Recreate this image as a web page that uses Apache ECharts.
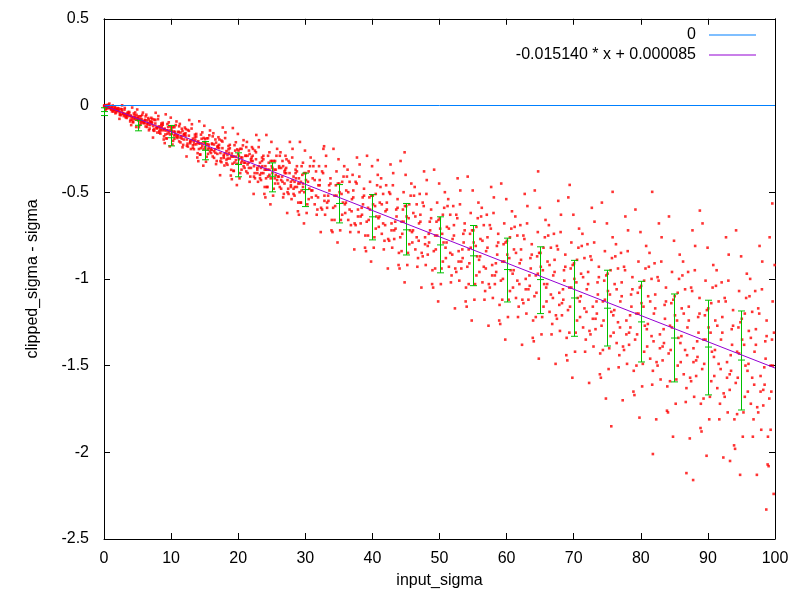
<!DOCTYPE html>
<html>
<head>
<meta charset="utf-8">
<script src="https://cdn.jsdelivr.net/npm/echarts@6.0.0/dist/echarts.min.js"></script>
<style>
  html, body { margin: 0; padding: 0; background: #fff; }
  #chart { width: 800px; height: 600px; }
</style>
</head>
<body>
<div id="chart"></div>
<script>
// clipped_sigma - sigma against input_sigma, points in passes
const dotsA = [
  [0.1,-0.004],[0.3,-0.020],[0.5,0.002],[0.6,-0.010],[0.8,0.011],[0.95,-0.016],
  [1.9,-0.030],[1.2,-0.005],[1.7,-0.045],[1.4,-0.017],[1.05,-0.024],[1.6,-0.010],
  [2.5,-0.020],[2.85,-0.043],[2.15,-0.027],[2.35,-0.054],[2.7,0.001],[2.95,-0.061],
  [3.25,-0.069],[3.75,-0.043],[3.45,-0.061],[3.05,-0.024],[3.9,-0.092],[3.6,-0.051],
  [4.65,-0.068],[4.15,-0.082],[4.95,-0.023],[4.35,-0.096],[4.55,-0.056],[4.8,-0.124],
  [5.1,-0.075],[5.3,-0.112],[5.5,-0.062],[5.6,-0.088],[5.8,-0.041],[5.95,-0.102],
  [6.9,-0.113],[6.2,-0.063],[6.7,-0.143],[6.4,-0.086],[6.05,-0.101],[6.6,-0.072],
  [7.5,-0.081],[7.85,-0.123],[7.15,-0.094],[7.35,-0.143],[7.7,-0.042],[7.95,-0.156],
  [8.25,-0.157],[8.75,-0.111],[8.45,-0.143],[8.05,-0.079],[8.9,-0.196],[8.6,-0.125],
  [9.65,-0.144],[9.15,-0.167],[9.95,-0.070],[9.35,-0.190],[9.55,-0.124],[9.8,-0.236],
  [10.1,-0.146],[10.3,-0.204],[10.5,-0.125],[10.6,-0.167],[10.8,-0.092],[10.95,-0.188],
  [11.9,-0.196],[11.2,-0.120],[11.7,-0.241],[11.4,-0.156],[11.05,-0.178],[11.6,-0.134],
  [12.5,-0.141],[12.85,-0.203],[12.15,-0.160],[12.35,-0.232],[12.7,-0.084],[12.95,-0.251],
  [13.25,-0.244],[13.75,-0.179],[13.45,-0.224],[13.05,-0.133],[13.9,-0.300],[13.6,-0.199],
  [14.65,-0.219],[14.15,-0.251],[14.95,-0.117],[14.35,-0.283],[14.55,-0.192],[14.8,-0.347],
  [15.1,-0.217],[15.3,-0.296],[15.5,-0.189],[15.6,-0.245],[15.8,-0.144],[15.95,-0.274],
  [16.9,-0.279],[16.2,-0.178],[16.7,-0.338],[16.4,-0.225],[16.05,-0.255],[16.6,-0.196],
  [17.5,-0.202],[17.85,-0.283],[17.15,-0.227],[17.35,-0.321],[17.7,-0.127],[17.95,-0.346],
  [18.25,-0.332],[18.75,-0.247],[18.45,-0.306],[18.05,-0.188],[18.9,-0.404],[18.6,-0.273],
  [19.65,-0.295],[19.15,-0.336],[19.95,-0.164],[19.35,-0.377],[19.55,-0.260],[19.8,-0.459],
  [20.1,-0.29],[20.3,-0.39],[20.5,-0.25],[20.6,-0.32],[20.8,-0.20],[20.95,-0.36],
  [21.9,-0.36],[21.2,-0.24],[21.7,-0.44],[21.4,-0.29],[21.05,-0.33],[21.6,-0.26],
  [22.5,-0.26],[22.85,-0.36],[22.15,-0.29],[22.35,-0.41],[22.7,-0.17],[22.95,-0.44],
  [23.25,-0.42],[23.75,-0.31],[23.45,-0.39],[23.05,-0.24],[23.9,-0.51],[23.6,-0.35],
  [24.65,-0.37],[24.15,-0.42],[24.95,-0.21],[24.35,-0.47],[24.55,-0.33],[24.8,-0.57],
  [25.1,-0.36],[25.3,-0.48],[25.5,-0.32],[25.6,-0.40],[25.8,-0.25],[25.95,-0.45],
  [26.9,-0.45],[26.2,-0.29],[26.7,-0.53],[26.4,-0.36],[26.05,-0.41],[26.6,-0.32],
  [27.5,-0.32],[27.85,-0.44],[27.15,-0.36],[27.35,-0.50],[27.7,-0.21],[27.95,-0.54],
  [28.25,-0.51],[28.75,-0.38],[28.45,-0.47],[28.05,-0.30],[28.9,-0.61],[28.6,-0.42],
  [29.65,-0.45],[29.15,-0.50],[29.95,-0.26],[29.35,-0.56],[29.55,-0.40],[29.8,-0.68],
  [30.1,-0.43],[30.3,-0.57],[30.5,-0.38],[30.6,-0.48],[30.8,-0.30],[30.95,-0.53],
  [31.9,-0.53],[31.2,-0.35],[31.7,-0.63],[31.4,-0.43],[31.05,-0.49],[31.6,-0.38],
  [32.5,-0.38],[32.85,-0.52],[32.15,-0.43],[32.35,-0.59],[32.7,-0.25],[32.95,-0.63],
  [33.25,-0.59],[33.75,-0.45],[33.45,-0.55],[33.05,-0.35],[33.9,-0.72],[33.6,-0.49],
  [34.65,-0.52],[34.15,-0.59],[34.95,-0.31],[34.35,-0.66],[34.55,-0.46],[34.8,-0.79],
  [35.1,-0.50],[35.3,-0.66],[35.5,-0.44],[35.6,-0.56],[35.8,-0.35],[35.95,-0.62],
  [36.9,-0.61],[36.2,-0.41],[36.7,-0.73],[36.4,-0.50],[36.05,-0.56],[36.6,-0.44],
  [37.5,-0.44],[37.85,-0.60],[37.15,-0.49],[37.35,-0.68],[37.7,-0.30],[37.95,-0.73],
  [38.25,-0.68],[38.75,-0.52],[38.45,-0.63],[38.05,-0.41],[38.9,-0.82],[38.6,-0.57],
  [39.65,-0.60],[39.15,-0.67],[39.95,-0.35],[39.35,-0.75],[39.55,-0.53],[39.8,-0.90],
  [40.1,-0.57],[40.3,-0.76],[40.5,-0.51],[40.6,-0.64],[40.8,-0.40],[40.95,-0.70],
  [41.9,-0.69],[41.2,-0.47],[41.7,-0.83],[41.4,-0.57],[41.05,-0.64],[41.6,-0.51],
  [42.5,-0.50],[42.85,-0.68],[42.15,-0.56],[42.35,-0.77],[42.7,-0.34],[42.95,-0.82],
  [43.25,-0.77],[43.75,-0.59],[43.45,-0.71],[43.05,-0.46],[43.9,-0.92],[43.6,-0.64],
  [44.65,-0.67],[44.15,-0.76],[44.95,-0.40],[44.35,-0.84],[44.55,-0.60],[44.8,-1.02],
  [45.1,-0.64],[45.3,-0.85],[45.5,-0.57],[45.6,-0.72],[45.8,-0.45],[45.95,-0.79],
  [46.9,-0.78],[46.2,-0.52],[46.7,-0.93],[46.4,-0.64],[46.05,-0.72],[46.6,-0.57],
  [47.5,-0.56],[47.85,-0.76],[47.15,-0.63],[47.35,-0.85],[47.7,-0.38],[47.95,-0.92],
  [48.25,-0.86],[48.75,-0.65],[48.45,-0.79],[48.05,-0.51],[48.9,-1.03],[48.6,-0.72],
  [49.65,-0.75],[49.15,-0.84],[49.95,-0.45],[49.35,-0.94],[49.55,-0.67],[49.8,-1.13],
  [50.1,-0.71],[50.3,-0.94],[50.5,-0.63],[50.6,-0.79],[50.8,-0.50],[50.95,-0.88],
  [51.9,-0.86],[51.2,-0.58],[51.7,-1.02],[51.4,-0.71],[51.05,-0.79],[51.6,-0.63],
  [52.5,-0.63],[52.85,-0.84],[52.15,-0.69],[52.35,-0.94],[52.7,-0.42],[52.95,-1.01],
  [53.25,-0.94],[53.75,-0.72],[53.45,-0.88],[53.05,-0.57],[53.9,-1.13],[53.6,-0.79],
  [54.65,-0.82],[54.15,-0.93],[54.95,-0.49],[54.35,-1.03],[54.55,-0.74],[54.8,-1.24],
  [55.1,-0.79],[55.3,-1.03],[55.5,-0.70],[55.6,-0.87],[55.8,-0.56],[55.95,-0.96],
  [56.9,-0.94],[56.2,-0.64],[56.7,-1.12],[56.4,-0.78],[56.05,-0.87],[56.6,-0.69],
  [57.5,-0.69],[57.85,-0.92],[57.15,-0.76],[57.35,-1.03],[57.7,-0.47],[57.95,-1.11],
  [58.25,-1.03],[58.75,-0.79],[58.45,-0.96],[58.05,-0.62],[58.9,-1.24],[58.6,-0.86],
  [59.65,-0.90],[59.15,-1.01],[59.95,-0.54],[59.35,-1.12],[59.55,-0.80],[59.8,-1.35],
  [60.1,-0.86],[60.3,-1.12],[60.5,-0.76],[60.6,-0.95],[60.8,-0.61],[60.95,-1.05],
  [61.9,-1.03],[61.2,-0.70],[61.7,-1.22],[61.4,-0.85],[61.05,-0.95],[61.6,-0.75],
  [62.5,-0.75],[62.85,-1.00],[62.15,-0.83],[62.35,-1.12],[62.7,-0.51],[62.95,-1.20],
  [63.25,-1.12],[63.75,-0.86],[63.45,-1.04],[63.05,-0.68],[63.9,-1.34],[63.6,-0.94],
  [64.65,-0.97],[64.15,-1.10],[64.95,-0.59],[64.35,-1.22],[64.55,-0.87],[64.8,-1.46],
  [65.1,-0.93],[65.3,-1.22],[65.5,-0.82],[65.6,-1.03],[65.8,-0.66],[65.95,-1.13],
  [66.9,-1.11],[66.2,-0.75],[66.7,-1.32],[66.4,-0.92],[66.05,-1.03],[66.6,-0.82],
  [67.5,-0.81],[67.85,-1.08],[67.15,-0.89],[67.35,-1.21],[67.7,-0.55],[67.95,-1.30],
  [68.25,-1.21],[68.75,-0.93],[68.45,-1.12],[68.05,-0.73],[68.9,-1.44],[68.6,-1.01],
  [69.65,-1.05],[69.15,-1.18],[69.95,-0.63],[69.35,-1.31],[69.55,-0.94],[69.8,-1.57],
  [70.1,-1.00],[70.3,-1.31],[70.5,-0.89],[70.6,-1.11],[70.8,-0.71],[70.95,-1.22],
  [71.9,-1.19],[71.2,-0.81],[71.7,-1.42],[71.4,-0.99],[71.05,-1.10],[71.6,-0.88],
  [72.5,-0.87],[72.85,-1.16],[72.15,-0.96],[72.35,-1.30],[72.7,-0.59],[72.95,-1.39],
  [73.25,-1.29],[73.75,-0.99],[73.45,-1.20],[73.05,-0.79],[73.9,-1.55],[73.6,-1.09],
  [74.65,-1.12],[74.15,-1.27],[74.95,-0.68],[74.35,-1.41],[74.55,-1.01],[74.8,-1.69],
  [75.1,-1.07],[75.3,-1.40],[75.5,-0.95],[75.6,-1.19],[75.8,-0.76],[75.95,-1.31],
  [76.9,-1.28],[76.2,-0.87],[76.7,-1.51],[76.4,-1.06],[76.05,-1.18],[76.6,-0.94],
  [77.5,-0.93],[77.85,-1.24],[77.15,-1.02],[77.35,-1.39],[77.7,-0.64],[77.95,-1.49],
  [78.25,-1.38],[78.75,-1.06],[78.45,-1.28],[78.05,-0.84],[78.9,-1.65],[78.6,-1.16],
  [79.65,-1.20],[79.15,-1.35],[79.95,-0.73],[79.35,-1.50],[79.55,-1.08],[79.8,-1.80],
  [80.1,-1.14],[80.3,-1.49],[80.5,-1.01],[80.6,-1.27],[80.8,-0.81],[80.95,-1.39],
  [81.9,-1.36],[81.2,-0.93],[81.7,-1.61],[81.4,-1.13],[81.05,-1.26],[81.6,-1.00],
  [82.5,-0.99],[82.85,-1.32],[82.15,-1.09],[82.35,-1.48],[82.7,-0.68],[82.95,-1.58],
  [83.25,-1.47],[83.75,-1.13],[83.45,-1.37],[83.05,-0.90],[83.9,-1.76],[83.6,-1.23],
  [84.65,-1.28],[84.15,-1.43],[84.95,-0.78],[84.35,-1.59],[84.55,-1.14],[84.8,-1.91],
  [85.1,-1.21],[85.3,-1.58],[85.5,-1.08],[85.6,-1.34],[85.8,-0.86],[85.95,-1.48],
  [86.9,-1.44],[86.2,-0.98],[86.7,-1.71],[86.4,-1.20],[86.05,-1.33],[86.6,-1.06],
  [87.5,-1.05],[87.85,-1.40],[87.15,-1.16],[87.35,-1.57],[87.7,-0.72],[87.95,-1.68],
  [88.25,-1.56],[88.75,-1.20],[88.45,-1.45],[88.05,-0.95],[88.9,-1.86],[88.6,-1.31],
  [89.65,-1.35],[89.15,-1.52],[89.95,-0.82],[89.35,-1.69],[89.55,-1.21],[89.8,-2.02],
  [90.1,-1.28],[90.3,-1.68],[90.5,-1.14],[90.6,-1.42],[90.8,-0.92],[90.95,-1.56],
  [91.9,-1.52],[91.2,-1.04],[91.7,-1.81],[91.4,-1.27],[91.05,-1.41],[91.6,-1.13],
  [92.5,-1.11],[92.85,-1.48],[92.15,-1.22],[92.35,-1.66],[92.7,-0.76],[92.95,-1.77],
  [93.25,-1.64],[93.75,-1.27],[93.45,-1.53],[93.05,-1.01],[93.9,-1.96],[93.6,-1.38],
  [94.65,-1.43],[94.15,-1.60],[94.95,-0.87],[94.35,-1.78],[94.55,-1.28],[94.8,-2.13],
  [95.1,-1.35],[95.3,-1.77],[95.5,-1.20],[95.6,-1.50],[95.8,-0.97],[95.95,-1.65],
  [96.9,-1.61],[96.2,-1.10],[96.7,-1.91],[96.4,-1.34],[96.05,-1.49],[96.6,-1.19],
  [97.5,-1.17],[97.85,-1.56],[97.15,-1.29],[97.35,-1.74],[97.7,-0.81],[97.95,-1.87],
  [98.25,-1.73],[98.75,-1.33],[98.45,-1.61],[98.05,-1.06],[98.9,-2.07],[98.6,-1.46],
  [99.65,-1.50],[99.15,-1.69],[99.95,-0.92],[99.35,-1.87],[99.55,-1.35],[99.8,-2.24]
];
const dotsB = [
  [0.9,-0.011],[0.7,0.005],[0.5,-0.017],[0.4,-0.005],[0.2,-0.026],[0.05,0.001],
  [1.1,-0.015],[1.8,-0.040],[1.3,0.000],[1.6,-0.028],[1.95,-0.021],[1.4,-0.035],
  [2.5,-0.056],[2.15,-0.033],[2.85,-0.049],[2.65,-0.022],[2.3,-0.077],[2.05,-0.015],
  [3.75,-0.037],[3.25,-0.063],[3.55,-0.045],[3.95,-0.082],[3.1,-0.014],[3.4,-0.055],
  [4.35,-0.068],[4.85,-0.054],[4.05,-0.113],[4.65,-0.040],[4.45,-0.080],[4.2,-0.012],
  [5.9,-0.091],[5.7,-0.054],[5.5,-0.104],[5.4,-0.078],[5.2,-0.125],[5.05,-0.064],
  [6.1,-0.083],[6.8,-0.133],[6.3,-0.053],[6.6,-0.110],[6.95,-0.095],[6.4,-0.124],
  [7.5,-0.146],[7.15,-0.104],[7.85,-0.133],[7.65,-0.084],[7.3,-0.185],[7.05,-0.071],
  [8.75,-0.100],[8.25,-0.146],[8.55,-0.114],[8.95,-0.178],[8.1,-0.061],[8.4,-0.132],
  [9.35,-0.143],[9.85,-0.120],[9.05,-0.217],[9.65,-0.097],[9.45,-0.163],[9.2,-0.051],
  [10.9,-0.171],[10.7,-0.113],[10.5,-0.192],[10.4,-0.150],[10.2,-0.225],[10.05,-0.129],
  [11.1,-0.151],[11.8,-0.227],[11.3,-0.106],[11.6,-0.191],[11.95,-0.169],[11.4,-0.213],
  [12.5,-0.237],[12.15,-0.175],[12.85,-0.218],[12.65,-0.146],[12.3,-0.294],[12.05,-0.127],
  [13.75,-0.164],[13.25,-0.229],[13.55,-0.184],[13.95,-0.275],[13.1,-0.108],[13.4,-0.209],
  [14.35,-0.219],[14.85,-0.187],[14.05,-0.321],[14.65,-0.155],[14.45,-0.246],[14.2,-0.091],
  [15.9,-0.251],[15.7,-0.172],[15.5,-0.279],[15.4,-0.223],[15.2,-0.324],[15.05,-0.194],
  [16.1,-0.219],[16.8,-0.320],[16.3,-0.160],[16.6,-0.273],[16.95,-0.243],[16.4,-0.302],
  [17.5,-0.327],[17.15,-0.246],[17.85,-0.302],[17.65,-0.208],[17.3,-0.402],[17.05,-0.183],
  [18.75,-0.227],[18.25,-0.312],[18.55,-0.253],[18.95,-0.371],[18.1,-0.155],[18.4,-0.286],
  [19.35,-0.294],[19.85,-0.253],[19.05,-0.425],[19.65,-0.212],[19.45,-0.329],[19.2,-0.130],
  [20.9,-0.33],[20.7,-0.23],[20.5,-0.37],[20.4,-0.30],[20.2,-0.42],[20.05,-0.26],
  [21.1,-0.29],[21.8,-0.41],[21.3,-0.21],[21.6,-0.36],[21.95,-0.32],[21.4,-0.39],
  [22.5,-0.42],[22.15,-0.32],[22.85,-0.39],[22.65,-0.27],[22.3,-0.51],[22.05,-0.24],
  [23.75,-0.29],[23.25,-0.40],[23.55,-0.32],[23.95,-0.47],[23.1,-0.20],[23.4,-0.36],
  [24.35,-0.37],[24.85,-0.32],[24.05,-0.53],[24.65,-0.27],[24.45,-0.41],[24.2,-0.17],
  [25.9,-0.41],[25.7,-0.29],[25.5,-0.45],[25.4,-0.37],[25.2,-0.52],[25.05,-0.32],
  [26.1,-0.35],[26.8,-0.51],[26.3,-0.27],[26.6,-0.44],[26.95,-0.39],[26.4,-0.48],
  [27.5,-0.51],[27.15,-0.39],[27.85,-0.47],[27.65,-0.33],[27.3,-0.62],[27.05,-0.29],
  [28.75,-0.35],[28.25,-0.48],[28.55,-0.39],[28.95,-0.56],[28.1,-0.25],[28.4,-0.44],
  [29.35,-0.44],[29.85,-0.39],[29.05,-0.63],[29.65,-0.33],[29.45,-0.49],[29.2,-0.21],
  [30.9,-0.49],[30.7,-0.35],[30.5,-0.54],[30.4,-0.44],[30.2,-0.62],[30.05,-0.39],
  [31.1,-0.42],[31.8,-0.60],[31.3,-0.32],[31.6,-0.52],[31.95,-0.46],[31.4,-0.57],
  [32.5,-0.60],[32.15,-0.46],[32.85,-0.55],[32.65,-0.39],[32.3,-0.73],[32.05,-0.35],
  [33.75,-0.42],[33.25,-0.56],[33.55,-0.46],[33.95,-0.66],[33.1,-0.29],[33.4,-0.52],
  [34.35,-0.52],[34.85,-0.45],[34.05,-0.73],[34.65,-0.38],[34.45,-0.58],[34.2,-0.25],
  [35.9,-0.57],[35.7,-0.41],[35.5,-0.63],[35.4,-0.51],[35.2,-0.72],[35.05,-0.45],
  [36.1,-0.49],[36.8,-0.69],[36.3,-0.37],[36.6,-0.60],[36.95,-0.54],[36.4,-0.66],
  [37.5,-0.69],[37.15,-0.53],[37.85,-0.64],[37.65,-0.45],[37.3,-0.83],[37.05,-0.40],
  [38.75,-0.48],[38.25,-0.64],[38.55,-0.53],[38.95,-0.75],[38.1,-0.34],[38.4,-0.59],
  [39.35,-0.59],[39.85,-0.52],[39.05,-0.84],[39.65,-0.44],[39.45,-0.66],[39.2,-0.29],
  [40.9,-0.65],[40.7,-0.46],[40.5,-0.71],[40.4,-0.58],[40.2,-0.82],[40.05,-0.52],
  [41.1,-0.56],[41.8,-0.78],[41.3,-0.42],[41.6,-0.68],[41.95,-0.61],[41.4,-0.74],
  [42.5,-0.78],[42.15,-0.60],[42.85,-0.72],[42.65,-0.51],[42.3,-0.94],[42.05,-0.46],
  [43.75,-0.54],[43.25,-0.72],[43.55,-0.60],[43.95,-0.85],[43.1,-0.39],[43.4,-0.67],
  [44.35,-0.67],[44.85,-0.58],[44.05,-0.94],[44.65,-0.50],[44.45,-0.74],[44.2,-0.32],
  [45.9,-0.73],[45.7,-0.52],[45.5,-0.80],[45.4,-0.65],[45.2,-0.92],[45.05,-0.58],
  [46.1,-0.62],[46.8,-0.88],[46.3,-0.47],[46.6,-0.76],[46.95,-0.68],[46.4,-0.83],
  [47.5,-0.87],[47.15,-0.67],[47.85,-0.80],[47.65,-0.58],[47.3,-1.05],[47.05,-0.51],
  [48.75,-0.60],[48.25,-0.81],[48.55,-0.67],[48.95,-0.95],[48.1,-0.43],[48.4,-0.74],
  [49.35,-0.75],[49.85,-0.66],[49.05,-1.05],[49.65,-0.56],[49.45,-0.83],[49.2,-0.37],
  [50.9,-0.82],[50.7,-0.59],[50.5,-0.90],[50.4,-0.74],[50.2,-1.03],[50.05,-0.65],
  [51.1,-0.70],[51.8,-0.98],[51.3,-0.54],[51.6,-0.85],[51.95,-0.77],[51.4,-0.93],
  [52.5,-0.96],[52.15,-0.75],[52.85,-0.90],[52.65,-0.65],[52.3,-1.17],[52.05,-0.58],
  [53.75,-0.68],[53.25,-0.90],[53.55,-0.74],[53.95,-1.05],[53.1,-0.49],[53.4,-0.83],
  [54.35,-0.83],[54.85,-0.72],[54.05,-1.16],[54.65,-0.62],[54.45,-0.91],[54.2,-0.41],
  [55.9,-0.89],[55.7,-0.65],[55.5,-0.98],[55.4,-0.81],[55.2,-1.12],[55.05,-0.72],
  [56.1,-0.77],[56.8,-1.07],[56.3,-0.59],[56.6,-0.93],[56.95,-0.84],[56.4,-1.02],
  [57.5,-1.05],[57.15,-0.82],[57.85,-0.98],[57.65,-0.71],[57.3,-1.27],[57.05,-0.63],
  [58.75,-0.74],[58.25,-0.98],[58.55,-0.81],[58.95,-1.15],[58.1,-0.53],[58.4,-0.91],
  [59.35,-0.90],[59.85,-0.79],[59.05,-1.26],[59.65,-0.68],[59.45,-1.00],[59.2,-0.45],
  [60.9,-0.97],[60.7,-0.71],[60.5,-1.07],[60.4,-0.88],[60.2,-1.22],[60.05,-0.78],
  [61.1,-0.83],[61.8,-1.16],[61.3,-0.64],[61.6,-1.01],[61.95,-0.91],[61.4,-1.11],
  [62.5,-1.14],[62.15,-0.89],[62.85,-1.06],[62.65,-0.77],[62.3,-1.38],[62.05,-0.69],
  [63.75,-0.80],[63.25,-1.06],[63.55,-0.88],[63.95,-1.24],[63.1,-0.58],[63.4,-0.98],
  [64.35,-0.98],[64.85,-0.85],[64.05,-1.36],[64.65,-0.73],[64.45,-1.08],[64.2,-0.49],
  [65.9,-1.05],[65.7,-0.76],[65.5,-1.16],[65.4,-0.95],[65.2,-1.32],[65.05,-0.85],
  [66.1,-0.90],[66.8,-1.26],[66.3,-0.69],[66.6,-1.09],[66.95,-0.98],[66.4,-1.19],
  [67.5,-1.23],[67.15,-0.96],[67.85,-1.15],[67.65,-0.83],[67.3,-1.49],[67.05,-0.74],
  [68.75,-0.86],[68.25,-1.14],[68.55,-0.95],[68.95,-1.34],[68.1,-0.63],[68.4,-1.06],
  [69.35,-1.05],[69.85,-0.92],[69.05,-1.47],[69.65,-0.79],[69.45,-1.16],[69.2,-0.53],
  [70.9,-1.13],[70.7,-0.82],[70.5,-1.24],[70.4,-1.02],[70.2,-1.42],[70.05,-0.91],
  [71.1,-0.97],[71.8,-1.35],[71.3,-0.74],[71.6,-1.17],[71.95,-1.06],[71.4,-1.28],
  [72.5,-1.32],[72.15,-1.03],[72.85,-1.23],[72.65,-0.89],[72.3,-1.60],[72.05,-0.80],
  [73.75,-0.93],[73.25,-1.23],[73.55,-1.02],[73.95,-1.43],[73.1,-0.67],[73.4,-1.13],
  [74.35,-1.13],[74.85,-0.98],[74.05,-1.57],[74.65,-0.84],[74.45,-1.24],[74.2,-0.56],
  [75.9,-1.21],[75.7,-0.88],[75.5,-1.33],[75.4,-1.09],[75.2,-1.52],[75.05,-0.97],
  [76.1,-1.03],[76.8,-1.44],[76.3,-0.80],[76.6,-1.25],[76.95,-1.13],[76.4,-1.37],
  [77.5,-1.41],[77.15,-1.10],[77.85,-1.32],[77.65,-0.95],[77.3,-1.70],[77.05,-0.85],
  [78.75,-0.99],[78.25,-1.31],[78.55,-1.09],[78.95,-1.53],[78.1,-0.72],[78.4,-1.21],
  [79.35,-1.20],[79.85,-1.05],[79.05,-1.67],[79.65,-0.90],[79.45,-1.32],[79.2,-0.60],
  [80.9,-1.29],[80.7,-0.94],[80.5,-1.42],[80.4,-1.16],[80.2,-1.62],[80.05,-1.04],
  [81.1,-1.10],[81.8,-1.53],[81.3,-0.85],[81.6,-1.33],[81.95,-1.20],[81.4,-1.46],
  [82.5,-1.50],[82.15,-1.17],[82.85,-1.40],[82.65,-1.01],[82.3,-1.81],[82.05,-0.91],
  [83.75,-1.05],[83.25,-1.39],[83.55,-1.15],[83.95,-1.62],[83.1,-0.76],[83.4,-1.29],
  [84.35,-1.27],[84.85,-1.12],[84.05,-1.77],[84.65,-0.96],[84.45,-1.41],[84.2,-0.64],
  [85.9,-1.37],[85.7,-1.00],[85.5,-1.50],[85.4,-1.24],[85.2,-1.72],[85.05,-1.10],
  [86.1,-1.17],[86.8,-1.63],[86.3,-0.90],[86.6,-1.41],[86.95,-1.28],[86.4,-1.55],
  [87.5,-1.59],[87.15,-1.24],[87.85,-1.48],[87.65,-1.07],[87.3,-1.92],[87.05,-0.96],
  [88.75,-1.11],[88.25,-1.47],[88.55,-1.22],[88.95,-1.72],[88.1,-0.81],[88.4,-1.36],
  [89.35,-1.35],[89.85,-1.18],[89.05,-1.88],[89.65,-1.01],[89.45,-1.49],[89.2,-0.68],
  [90.9,-1.45],[90.7,-1.05],[90.5,-1.59],[90.4,-1.31],[90.2,-1.81],[90.05,-1.17],
  [91.1,-1.24],[91.8,-1.72],[91.3,-0.95],[91.6,-1.49],[91.95,-1.35],[91.4,-1.63],
  [92.5,-1.68],[92.15,-1.31],[92.85,-1.57],[92.65,-1.13],[92.3,-2.03],[92.05,-1.02],
  [93.75,-1.18],[93.25,-1.55],[93.55,-1.29],[93.95,-1.81],[93.1,-0.86],[93.4,-1.44],
  [94.35,-1.42],[94.85,-1.25],[94.05,-1.98],[94.65,-1.07],[94.45,-1.57],[94.2,-0.72],
  [95.9,-1.53],[95.7,-1.11],[95.5,-1.68],[95.4,-1.38],[95.2,-1.91],[95.05,-1.23],
  [96.1,-1.30],[96.8,-1.81],[96.3,-1.00],[96.6,-1.57],[96.95,-1.42],[96.4,-1.72],
  [97.5,-1.77],[97.15,-1.38],[97.85,-1.65],[97.65,-1.20],[97.3,-2.13],[97.05,-1.07],
  [98.75,-1.24],[98.25,-1.64],[98.55,-1.36],[98.95,-1.91],[98.1,-0.90],[98.4,-1.51],
  [99.35,-1.50],[99.85,-1.31],[99.05,-2.08],[99.65,-1.13],[99.45,-1.65],[99.2,-0.76]
];
const dotsCore = [
  [0.6,-0.006],[0.8,-0.014],[0.02,-0.003],[0.1,-0.009],[0.3,0.002],[0.45,-0.012],
  [1.4,-0.026],[1.7,-0.014],[1.2,-0.034],[1.9,-0.020],[1.55,-0.023],[1.1,-0.016],
  [2.0,-0.029],[2.35,-0.040],[2.65,-0.032],[2.85,-0.046],[2.2,-0.018],[2.45,-0.049],
  [3.75,-0.061],[3.25,-0.048],[3.95,-0.057],[3.55,-0.038],[3.4,-0.072],[3.1,-0.052],
  [4.15,-0.068],[4.65,-0.075],[4.45,-0.046],[4.85,-0.082],[4.05,-0.062],[4.3,-0.096],
  [5.6,-0.079],[5.8,-0.098],[5.0,-0.073],[5.1,-0.086],[5.3,-0.062],[5.45,-0.093],
  [6.4,-0.106],[6.7,-0.081],[6.2,-0.121],[6.9,-0.092],[6.55,-0.100],[6.1,-0.085],
  [7.0,-0.097],[7.35,-0.118],[7.65,-0.104],[7.85,-0.128],[7.2,-0.078],[7.45,-0.135],
  [8.75,-0.143],[8.25,-0.120],[8.95,-0.136],[8.55,-0.104],[8.4,-0.162],[8.1,-0.127],
  [9.15,-0.144],[9.65,-0.155],[9.45,-0.107],[9.85,-0.167],[9.05,-0.134],[9.3,-0.190],
  [10.6,-0.152],[10.8,-0.181],[10.0,-0.142],[10.1,-0.163],[10.3,-0.125],[10.45,-0.173],
  [11.4,-0.185],[11.7,-0.147],[11.2,-0.207],[11.9,-0.165],[11.55,-0.176],[11.1,-0.154],
  [12.0,-0.165],[12.35,-0.196],[12.65,-0.174],[12.85,-0.210],[12.2,-0.136],[12.45,-0.220],
  [13.75,-0.224],[13.25,-0.191],[13.95,-0.214],[13.55,-0.168],[13.4,-0.252],[13.1,-0.201],
  [14.15,-0.219],[14.65,-0.235],[14.45,-0.168],[14.85,-0.251],[14.05,-0.206],[14.3,-0.283],
  [15.6,-0.226],[15.8,-0.265],[15.0,-0.212],[15.1,-0.240],[15.3,-0.189],[15.45,-0.254],
  [16.4,-0.264],[16.7,-0.214],[16.2,-0.294],[16.9,-0.237],[16.55,-0.252],[16.1,-0.223],
  [17.0,-0.233],[17.35,-0.274],[17.65,-0.246],[17.85,-0.293],[17.2,-0.196],[17.45,-0.305],
  [18.75,-0.306],[18.25,-0.263],[18.95,-0.293],[18.55,-0.234],[18.4,-0.342],[18.1,-0.276],
  [19.15,-0.295],[19.65,-0.315],[19.45,-0.229],[19.85,-0.336],[19.05,-0.277],[19.3,-0.377],
  [20.6,-0.30],[20.8,-0.35],[20.0,-0.28],[20.1,-0.31],[20.3,-0.25],[20.45,-0.33],
  [21.4,-0.34],[21.7,-0.28],[21.2,-0.38],[21.9,-0.31],[21.55,-0.33],[21.1,-0.29],
  [22.0,-0.30],[22.35,-0.35],[22.65,-0.31],[22.85,-0.37],[22.2,-0.25],[22.45,-0.39],
  [23.75,-0.39],[23.25,-0.33],[23.95,-0.37],[23.55,-0.30],[23.4,-0.43],[23.1,-0.35],
  [24.15,-0.37],[24.65,-0.40],[24.45,-0.29],[24.85,-0.42],[24.05,-0.35],[24.3,-0.47],
  [25.6,-0.37],[25.8,-0.43],[25.0,-0.35],[25.1,-0.39],[25.3,-0.32],[25.45,-0.42],
  [26.4,-0.43],[26.7,-0.35],[26.2,-0.47],[26.9,-0.38],[26.55,-0.41],[26.1,-0.36],
  [27.0,-0.37],[27.35,-0.43],[27.65,-0.39],[27.85,-0.46],[27.2,-0.31],[27.45,-0.48],
  [28.75,-0.47],[28.25,-0.41],[28.95,-0.45],[28.55,-0.37],[28.4,-0.52],[28.1,-0.43],
  [29.15,-0.45],[29.65,-0.47],[29.45,-0.35],[29.85,-0.50],[29.05,-0.42],[29.3,-0.56]
];
// stray points well away from the main cloud
const dotsStray = [
  [32.8,-0.235],[40.8,-0.315],[44.8,-0.27],[64.7,-0.38],[69.4,-0.458],[75.8,-0.498],
  [81.7,-0.498],[88.8,-0.606],[99.6,-0.565],[75.6,-1.85],[81.8,-2.01],[86.8,-2.12],
  [87.8,-2.16],[93.3,-2.05],[98.7,-2.33]
];

// binned error bars (every 5 in input_sigma)
const errX    = [0, 5, 10, 15, 20, 25, 30, 35, 40, 45, 50, 55, 60, 65, 70, 75, 80, 85, 90, 95];
const errHigh = [-0.013, -0.085, -0.115, -0.208, -0.273, -0.331, -0.390, -0.456, -0.514, -0.565,
                 -0.642, -0.692, -0.765, -0.815, -0.893, -0.950, -1.014, -1.087, -1.123, -1.185];
const errMid  = [-0.035, -0.114, -0.186, -0.258, -0.340, -0.408, -0.485, -0.565, -0.642, -0.717,
                 -0.804, -0.867, -0.946, -1.004, -1.110, -1.169, -1.248, -1.341, -1.393, -1.468];
const errLow  = [-0.058, -0.146, -0.233, -0.313, -0.411, -0.498, -0.583, -0.677, -0.775, -0.862,
                 -0.965, -1.039, -1.133, -1.200, -1.331, -1.387, -1.479, -1.594, -1.669, -1.756];

// the two plotted lines
const zeroX = [0, 100];
const zeroY = [0, 0];
const fitX = [0, 100];
const fitY = [0.000085, -1.513915];
const lineNames = ['0', '-0.015140 * x + 0.000085'];

const FONT = 'Liberation Sans';
const chart = echarts.init(document.getElementById('chart'));

const errData = errX.map(function (x, i) {
    return [x, errLow[i], errHigh[i], errMid[i]];
});

function renderErrorBar(params, api) {
    const lo = api.coord([api.value(0), api.value(1)]);
    const hi = api.coord([api.value(0), api.value(2)]);
    const mid = api.coord([api.value(0), api.value(3)]);
    const x = Math.round(lo[0]) + 0.5;
    const w = 3.5;
    const style = {stroke: '#00c000', lineWidth: 1, fill: null};
    return {
        type: 'group',
        children: [
            {type: 'line', shape: {x1: x, y1: lo[1], x2: x, y2: hi[1]}, style: style},
            {type: 'line', shape: {x1: x - w, y1: lo[1], x2: x + w, y2: lo[1]}, style: style},
            {type: 'line', shape: {x1: x - w, y1: hi[1], x2: x + w, y2: hi[1]}, style: style},
            {type: 'line', shape: {x1: x - w, y1: mid[1], x2: x + w, y2: mid[1]}, style: style}
        ]
    };
}

function frameAxis(extra) {
    return Object.assign({
        type: 'value',
        axisLine: {show: true, onZero: false, lineStyle: {color: '#000', width: 1}},
        axisTick: {show: true, inside: true, length: 6, lineStyle: {color: '#000', width: 1}},
        splitLine: {show: false}
    }, extra);
}

const labelStyle = {fontFamily: FONT, fontSize: 16, color: '#000'};

const option = {
    backgroundColor: '#ffffff',
    animation: false,
    textStyle: {fontFamily: FONT},
    grid: {left: 104, right: 25, top: 18.8, bottom: 61, containLabel: false},
    legend: {
        orient: 'vertical',
        right: 44,
        top: 27,
        padding: 0,
        align: 'right',
        icon: 'rect',
        itemWidth: 47,
        itemHeight: 1,
        itemGap: 4,
        data: lineNames,
        textStyle: Object.assign({padding: [0, 8, 0, 0]}, labelStyle)
    },
    xAxis: [
        frameAxis({
            position: 'bottom', min: 0, max: 100, interval: 10,
            name: 'input_sigma', nameLocation: 'middle', nameGap: 34,
            nameTextStyle: labelStyle,
            axisLabel: Object.assign({margin: 12}, labelStyle)
        }),
        frameAxis({position: 'top', min: 0, max: 100, interval: 10, axisLabel: {show: false}})
    ],
    yAxis: [
        frameAxis({
            position: 'left', min: -2.5, max: 0.5, interval: 0.5,
            name: 'clipped_sigma - sigma', nameLocation: 'middle', nameGap: 63, nameRotate: 90,
            nameTextStyle: labelStyle,
            axisLabel: Object.assign({margin: 15}, labelStyle)
        }),
        frameAxis({position: 'right', min: -2.5, max: 0.5, interval: 0.5, axisLabel: {show: false}})
    ],
    series: [
        {
            name: 'data',
            type: 'scatter',
            data: dotsA.concat(dotsB, dotsCore, dotsStray),
            symbol: 'rect',
            symbolSize: 2.6,
            itemStyle: {color: '#ff0000'},
            silent: true,
            large: false,
            z: 2
        },
        {
            name: 'bins',
            type: 'custom',
            data: errData,
            renderItem: renderErrorBar,
            silent: true,
            z: 3
        },
        {
            name: lineNames[0],
            type: 'line',
            data: zeroX.map(function (x, i) { return [x, zeroY[i]]; }),
            symbol: 'none',
            lineStyle: {color: '#0080ff', width: 1},
            itemStyle: {color: '#0080ff'},
            z: 4
        },
        {
            name: lineNames[1],
            type: 'line',
            data: fitX.map(function (x, i) { return [x, fitY[i]]; }),
            symbol: 'none',
            lineStyle: {color: '#9400d3', width: 1},
            itemStyle: {color: '#9400d3'},
            z: 5
        }
    ]
};

chart.setOption(option);
window.onresize = chart.resize;
</script>
</body>
</html>
